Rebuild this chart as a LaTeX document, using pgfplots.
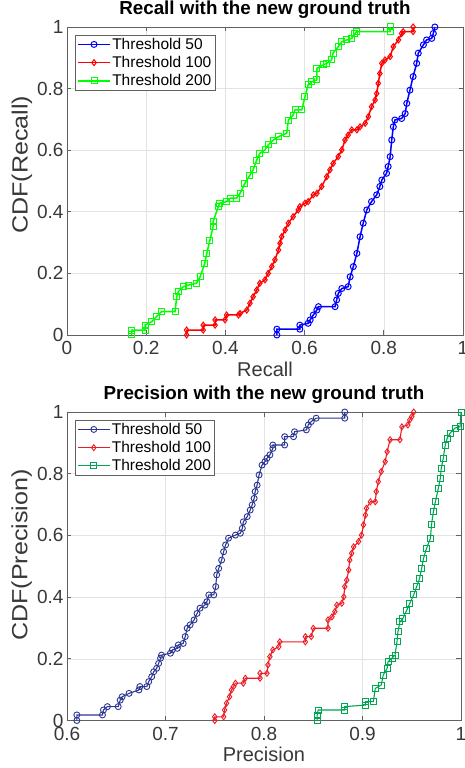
\documentclass[border=0pt]{standalone}
\usepackage{fontspec}
\setmainfont{Liberation Sans}
\usepackage{graphicx}
\usepackage{pgfplots}
\pgfplotsset{compat=1.18}

\definecolor{tblue}{rgb}{0,0,1}
\definecolor{tred}{rgb}{1,0,0}
\definecolor{tgreen}{rgb}{0,1,0}
\definecolor{bblue}{rgb}{0.17,0.21,0.57}
\definecolor{bred}{rgb}{0.93,0.11,0.14}
\definecolor{bgreen}{rgb}{0,0.65,0.32}
\definecolor{axcol}{gray}{0.38}
\definecolor{txtcol}{gray}{0.22}

\pgfplotsset{
  myax/.style={
    scale only axis,
    ymin=0, ymax=1, ytick={0,0.2,0.4,0.6,0.8,1},
    grid=major,
    major grid style={gray!22, line width=0.6pt},
    axis line style={axcol, line width=0.7pt},
    tick style={axcol, line width=0.7pt},
    tick align=inside, major tick length=4.5pt,
    /pgf/number format/assume math mode=true,
    ticklabel style={font=\fontsize{19}{19}\selectfont, text=txtcol},
    xticklabel style={yshift=-3pt},
    xlabel style={font=\fontsize{20}{20}\selectfont, text=txtcol, at={(axis description cs:0.5,-0.111)}, anchor=center},
    ylabel style={font=\fontsize{22}{22}\selectfont, text=txtcol, anchor=center},
    title style={font=\bfseries\fontsize{18.8}{19}\selectfont, yshift=-1pt},
    clip=false,
    legend cell align=left,
    legend style={font=\fontsize{15.5}{16}\selectfont, at={(axis description cs:0.02,0.974)}, anchor=north west,
      draw=axcol, line width=0.7pt, inner xsep=2pt, inner ysep=1.2pt, row sep=2.5pt,
      nodes={inner sep=1.5pt}},
    legend image code/.code={\draw[mark repeat=2,mark phase=2] plot coordinates {(0pt,0pt)(16pt,0pt)(32pt,0pt)};},
  },
  topline/.style={line width=1.5pt, mark size=3pt, mark options={solid, line width=1pt}},
  botline/.style={line width=1.1pt, mark size=3pt, mark options={solid, line width=0.9pt}},
}

\begin{document}
\begin{tikzpicture}
\path[use as bounding box] (-67pt,-433pt) rectangle (398pt,335pt);

\begin{axis}[myax, at={(0pt,0pt)}, anchor=south west,
  width=396pt, height=308pt,
  xmin=0, xmax=1, xtick={0,0.2,0.4,0.6,0.8,1},
  title={Recall with the new ground truth},
  xlabel={Recall},
  ylabel={\scalebox{1.14}[1]{CDF(Recall)}},
  ylabel style={at={(axis description cs:-0.114,0.553)}},
]
\addplot[topline, color=tblue, mark=o] coordinates {
(0.53,0)(0.53,0.019)(0.588,0.019)(0.588,0.032)(0.609,0.038)(0.614,0.049)(0.622,0.065)(0.631,0.081)(0.635,0.092)(0.677,0.092)(0.681,0.114)(0.685,0.135)(0.694,0.151)(0.71,0.157)(0.715,0.189)(0.723,0.222)(0.732,0.265)(0.74,0.319)(0.748,0.363)(0.757,0.406)(0.769,0.433)(0.782,0.455)(0.79,0.482)(0.795,0.503)(0.807,0.525)(0.811,0.547)(0.816,0.579)(0.82,0.633)(0.824,0.676)(0.828,0.698)(0.845,0.703)(0.854,0.719)(0.858,0.752)(0.866,0.795)(0.874,0.839)(0.883,0.882)(0.887,0.915)(0.9,0.942)(0.908,0.958)(0.921,0.963)(0.925,0.979)(0.929,1.0)
};
\addlegendentry{Threshold 50}
\addplot[topline, color=tred, mark=diamond] coordinates {
(0.302,0)(0.302,0.016)(0.344,0.016)(0.344,0.032)(0.374,0.032)(0.374,0.049)(0.399,0.049)(0.403,0.065)(0.433,0.065)(0.437,0.070)(0.454,0.081)(0.462,0.103)(0.47,0.124)(0.479,0.146)(0.487,0.168)(0.5,0.179)(0.508,0.2)(0.517,0.222)(0.525,0.244)(0.534,0.276)(0.538,0.298)(0.542,0.319)(0.551,0.341)(0.559,0.363)(0.571,0.384)(0.584,0.406)(0.588,0.417)(0.601,0.428)(0.609,0.433)(0.622,0.455)(0.631,0.46)(0.643,0.482)(0.656,0.514)(0.664,0.536)(0.672,0.557)(0.685,0.579)(0.694,0.601)(0.702,0.633)(0.71,0.649)(0.719,0.666)(0.732,0.666)(0.74,0.676)(0.753,0.687)(0.761,0.709)(0.769,0.741)(0.778,0.763)(0.782,0.784)(0.786,0.817)(0.79,0.849)(0.795,0.882)(0.803,0.893)(0.816,0.904)(0.824,0.936)(0.837,0.958)(0.845,0.979)(0.849,0.985)(0.874,0.985)(0.874,1.0)
};
\addlegendentry{Threshold 100}
\addplot[topline, color=tgreen, mark=square] coordinates {
(0.163,0)(0.163,0.016)(0.197,0.016)(0.197,0.032)(0.214,0.043)(0.226,0.06)(0.239,0.076)(0.273,0.076)(0.277,0.124)(0.281,0.141)(0.294,0.157)(0.306,0.162)(0.327,0.168)(0.336,0.189)(0.348,0.233)(0.353,0.265)(0.361,0.308)(0.369,0.352)(0.369,0.368)(0.382,0.417)(0.386,0.428)(0.403,0.433)(0.412,0.444)(0.428,0.444)(0.437,0.46)(0.449,0.492)(0.462,0.519)(0.47,0.536)(0.479,0.568)(0.487,0.59)(0.5,0.601)(0.508,0.617)(0.521,0.633)(0.534,0.644)(0.555,0.655)(0.559,0.698)(0.571,0.714)(0.576,0.731)(0.593,0.731)(0.601,0.774)(0.609,0.812)(0.618,0.822)(0.631,0.828)(0.631,0.866)(0.647,0.877)(0.656,0.882)(0.668,0.893)(0.672,0.915)(0.685,0.936)(0.694,0.952)(0.706,0.958)(0.719,0.963)(0.727,0.979)(0.732,0.985)(0.816,0.985)(0.816,1.0)
};
\addlegendentry{Threshold 200}
\end{axis}

\begin{axis}[myax, at={(0pt,-385.5pt)}, anchor=south west,
  width=394pt, height=308.5pt,
  xmin=0.6, xmax=1, xtick={0.6,0.7,0.8,0.9,1},
  title={Precision with the new ground truth},
  xlabel={Precision},
  ylabel={\scalebox{1.14}[1]{CDF(Precision)}},
  ylabel style={at={(axis description cs:-0.115,0.536)}},
]
\addplot[botline, color=bblue, mark=o] coordinates {
(0.61,0)(0.61,0.018)(0.636,0.018)(0.637,0.034)(0.641,0.045)(0.652,0.045)(0.654,0.066)(0.656,0.077)(0.663,0.088)(0.673,0.099)(0.674,0.11)(0.681,0.11)(0.683,0.126)(0.686,0.142)(0.688,0.158)(0.691,0.169)(0.693,0.185)(0.695,0.202)(0.696,0.212)(0.705,0.218)(0.707,0.229)(0.712,0.234)(0.713,0.245)(0.718,0.25)(0.72,0.272)(0.722,0.299)(0.725,0.31)(0.729,0.326)(0.732,0.347)(0.735,0.364)(0.74,0.374)(0.742,0.385)(0.744,0.407)(0.749,0.407)(0.751,0.434)(0.752,0.472)(0.754,0.493)(0.757,0.52)(0.759,0.547)(0.761,0.569)(0.764,0.591)(0.771,0.601)(0.776,0.607)(0.778,0.623)(0.779,0.644)(0.783,0.661)(0.786,0.682)(0.788,0.699)(0.79,0.72)(0.791,0.742)(0.793,0.763)(0.795,0.796)(0.798,0.828)(0.801,0.839)(0.803,0.85)(0.806,0.861)(0.809,0.882)(0.809,0.893)(0.821,0.893)(0.821,0.92)(0.83,0.92)(0.831,0.936)(0.843,0.942)(0.845,0.958)(0.848,0.969)(0.853,0.98)(0.882,0.98)(0.882,1.0)
};
\addlegendentry{Threshold 50}
\addplot[botline, color=bred, mark=diamond] coordinates {
(0.75,0)(0.75,0.012)(0.759,0.012)(0.76,0.034)(0.762,0.056)(0.765,0.077)(0.767,0.099)(0.769,0.11)(0.771,0.121)(0.779,0.121)(0.781,0.137)(0.796,0.137)(0.796,0.153)(0.803,0.153)(0.804,0.18)(0.806,0.207)(0.809,0.229)(0.815,0.239)(0.816,0.255)(0.842,0.255)(0.842,0.272)(0.848,0.272)(0.85,0.299)(0.865,0.299)(0.865,0.326)(0.869,0.336)(0.872,0.353)(0.874,0.374)(0.879,0.38)(0.881,0.401)(0.882,0.434)(0.884,0.455)(0.886,0.488)(0.887,0.52)(0.889,0.542)(0.891,0.563)(0.896,0.58)(0.899,0.601)(0.901,0.634)(0.903,0.666)(0.904,0.688)(0.908,0.709)(0.913,0.709)(0.914,0.742)(0.916,0.774)(0.919,0.807)(0.923,0.839)(0.925,0.871)(0.928,0.91)(0.938,0.91)(0.94,0.952)(0.946,0.958)(0.948,0.974)(0.95,0.985)(0.952,1.0)
};
\addlegendentry{Threshold 100}
\addplot[botline, color=bgreen, mark=square] coordinates {
(0.854,0)(0.854,0.018)(0.855,0.034)(0.882,0.034)(0.882,0.045)(0.903,0.05)(0.903,0.061)(0.911,0.061)(0.913,0.104)(0.919,0.115)(0.921,0.147)(0.925,0.169)(0.926,0.191)(0.93,0.202)(0.933,0.212)(0.935,0.255)(0.936,0.288)(0.938,0.32)(0.941,0.331)(0.945,0.358)(0.948,0.38)(0.952,0.407)(0.955,0.434)(0.958,0.461)(0.96,0.493)(0.962,0.526)(0.965,0.558)(0.969,0.591)(0.97,0.634)(0.972,0.677)(0.974,0.709)(0.977,0.753)(0.979,0.785)(0.98,0.818)(0.982,0.85)(0.984,0.893)(0.986,0.915)(0.989,0.932)(0.994,0.948)(0.999,0.952)(1.0,1.0)
};
\addlegendentry{Threshold 200}
\end{axis}
\end{tikzpicture}
\end{document}
